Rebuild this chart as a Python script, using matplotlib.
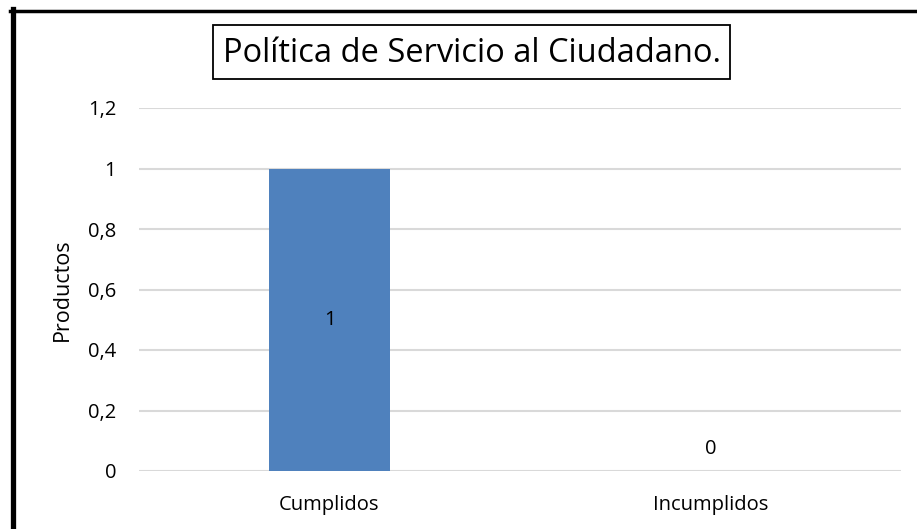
import matplotlib
matplotlib.use("Agg")
import matplotlib.pyplot as plt
from matplotlib.lines import Line2D
from matplotlib.patches import Rectangle

plt.rcParams.update({
    "font.family": ["Open Sans", "DejaVu Sans"],
})

categories = ["Cumplidos", "Incumplidos"]
values = [1, 0]
value_labels = ["1", "0"]
yticks = [0, 0.2, 0.4, 0.6, 0.8, 1.0, 1.2]
ytick_labels = ["0", "0,2", "0,4", "0,6", "0,8", "1", "1,2"]

W, H = 917, 529
fig = plt.figure(figsize=(W / 100, H / 100), dpi=100)
ax = fig.add_axes([139 / W, 1 - 471 / H, (901 - 139) / W, (471 - 108) / H])

x = range(len(categories))
ax.bar(x, values, width=0.315, color="#4F81BD", zorder=3)
ax.set_xlim(-0.5, len(categories) - 0.5)
ax.set_ylim(0, 1.2)
ax.set_yticks(yticks)
ax.set_yticklabels(ytick_labels)
ax.set_xticks(list(x))
ax.set_xticklabels(categories)
ax.tick_params(axis="both", length=0, labelsize=14.5, colors="black")
ax.tick_params(axis="y", pad=16.5)
ax.tick_params(axis="x", pad=17)
ax.yaxis.grid(True, color="#D9D9D9", linewidth=1.5, zorder=0)
for s in ax.spines.values():
    s.set_visible(False)
ax.set_ylabel("Productos", fontsize=15.5)
ax.yaxis.set_label_coords((73 - 139) / 762, 0.5)

# data labels
for i, (v, lbl) in enumerate(zip(values, value_labels)):
    if v > 0:
        ax.text(i, v / 2, lbl, ha="center", va="center", fontsize=14.5)
    else:
        ax.annotate(lbl, (i, v), xytext=(0, 16), textcoords="offset points",
                    ha="center", va="center", fontsize=14.5)

# title with box
fig.add_artist(Rectangle((213 / W, 1 - 79 / H), (730 - 213) / W, 54 / H,
                         transform=fig.transFigure, fc="white", ec="black", lw=1.3))
fig.text(471.5 / W, 1 - 53 / H, "Política de Servicio al Ciudadano.",
         ha="center", va="center", fontsize=23.5)

# thick frame (left and top edges visible)
fig.add_artist(Line2D([12.5 / W, 12.5 / W], [0, 1 - 9 / H], transform=fig.transFigure,
                      color="black", lw=3.8))
fig.add_artist(Line2D([10 / W, 1], [1 - 10.5 / H, 1 - 10.5 / H], transform=fig.transFigure,
                      color="black", lw=2.5))

fig.savefig("out.png", dpi=100, facecolor="white")
